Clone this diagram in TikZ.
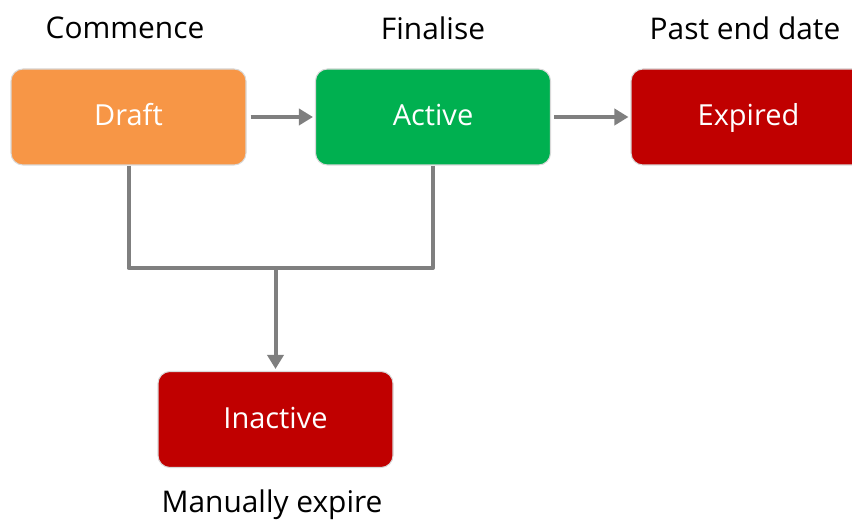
\documentclass[tikz,border=0pt]{standalone}
\usepackage{fontspec}
\setmainfont{Open Sans}
\usetikzlibrary{arrows.meta}
\definecolor{draftorange}{HTML}{F79646}
\definecolor{activegreen}{HTML}{00B050}
\definecolor{expiredred}{HTML}{C00000}
\definecolor{linegrey}{HTML}{7F7F7F}
\definecolor{edgegrey}{HTML}{D9D9D9}
\tikzset{
	statebox/.style={draw=edgegrey, line width=0.6pt, rounded corners=0.24cm,
		minimum width=4.7cm, minimum height=1.92cm, text=white,
		text height=1em, text depth=0pt,
		font=\fontsize{16.5}{20}\selectfont},
	caption/.style={font=\fontsize{17}{20}\selectfont, text=black},
	flow/.style={draw=linegrey, line width=0.08cm, line join=round},
	tip/.style={-{Triangle[length=0.28cm,width=0.32cm]}}
}
\begin{document}
\begin{tikzpicture}

	\useasboundingbox (0,0) rectangle (17.04,10.42);

	\node[statebox, fill=draftorange] (draft) at (2.57,8.08) {Draft};
	\node[statebox, fill=activegreen] (active) at (8.66,8.08) {Active};
	\node[statebox, fill=expiredred] (expired) at (14.97,8.08) {Expired};
	\node[statebox, fill=expiredred] (inactive) at (5.51,2.03) {Inactive};

	\node[caption] (commence) at (2.5,9.86) {Commence};
	\node[caption] (finalise) at (8.66,9.86) {Finalise};
	\node[caption] (pastend) at (14.9,9.86) {Past end date};
	\node[caption] (manual) at (5.44,0.32) {Manually expire};

	\coordinate (join) at (5.51,5.06);

	\draw[flow, tip, shorten <=0.08cm, shorten >=0.04cm] (draft) -- (active);
	\draw[flow, tip, shorten <=0.06cm, shorten >=0.04cm] (active) -- (expired);
	\draw[flow] (draft.south) |- (join);
	\draw[flow] (active.south) |- (join);
	\draw[flow, tip, shorten >=0.04cm] (join) -- (inactive.north);

\end{tikzpicture}
\end{document}
